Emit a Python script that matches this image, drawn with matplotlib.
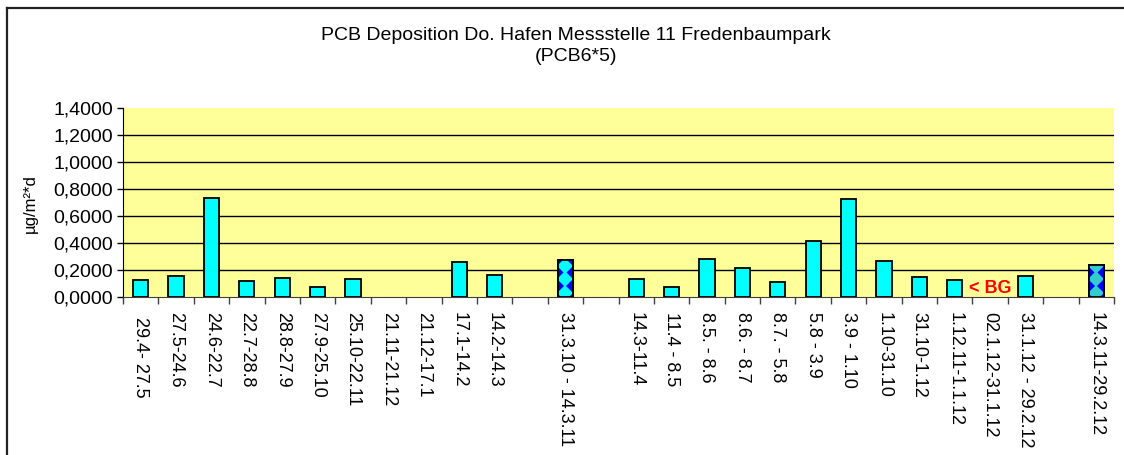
import matplotlib
matplotlib.use("Agg")
import matplotlib.pyplot as plt
from matplotlib.lines import Line2D
from matplotlib.ticker import FixedLocator, FuncFormatter
import numpy as np

plt.rcParams["font.family"] = ["Liberation Sans", "DejaVu Sans"]

# measuring periods (x categories); empty strings are gaps in the series
periods = [
    " 29.4- 27.5", "27.5-24.6", "24.6-22.7", "22.7-28.8", "28.8-27.9",
    "27.9-25.10", "25.10-22.11", "21.11-21.12", "21.12-17.1", "17.1-14.2",
    "14.2-14.3", "", "31.3.10 - 14.3.11", "", "14.3-11.4", "11.4 - 8.5",
    "8.5. - 8.6", "8.6. - 8.7", "8.7. - 5.8", "5.8 - 3.9", "3.9 - 1.10",
    "1.10-31.10", "31.10-1.12", "1.12.11-1.1.12", "02.1.12-31.1.12",
    "31.1.12 - 29.2.12", "", "14.3.11-29.2.12",
]
# deposition in µg/m²*d, NaN = no bar
deposition = [
    0.128, 0.158, 0.733, 0.116, 0.138, 0.074, 0.136, np.nan, np.nan, 0.257,
    0.165, np.nan, 0.274, np.nan, 0.131, 0.077, 0.281, 0.212, 0.109, 0.415,
    0.723, 0.267, 0.151, 0.123, np.nan, 0.156, np.nan, 0.240,
]
# annual mean bars (index -> diamond colour)
annual = {12: "#00FFFF", 27: "#33CCCC"}
# below detection limit marker
bg_index = 24
bg_value = 0.06

W, H = 1124, 455
fig = plt.figure(figsize=(W / 100, H / 100), dpi=100, facecolor="white")
left, right, top, bottom = 123, 1114, 108, 297
ax = fig.add_axes([left / W, 1 - bottom / H, (right - left) / W, (bottom - top) / H])
ax.set_facecolor("#FFFF99")

x = np.arange(len(periods))
vals = np.array(deposition, dtype=float)
width = 0.43

for i, v in zip(x, vals):
    if np.isnan(v):
        continue
    if i in annual:
        bar = ax.bar(i, v, width=width, color="#0000FF", edgecolor="black",
                     linewidth=1.3, zorder=3)[0]
        ys = np.arange(0.03, v + 0.05, 0.1)
        ln, = ax.plot(np.full(len(ys), i), ys, linestyle="none", marker="D",
                      markersize=8.5, markerfacecolor=annual[i],
                      markeredgewidth=0, zorder=4)
        ln.set_clip_path(bar)
        ax.bar(i, v, width=width, fill=False, edgecolor="black",
               linewidth=1.3, zorder=5)
    else:
        ax.bar(i, v, width=width, color="#00FFFF", edgecolor="black",
               linewidth=1.3, zorder=3)

ax.text(bg_index, bg_value, "< BG", color="#FF0000", fontsize=13,
        fontweight="bold", ha="center", va="center", zorder=6)

ax.set_xlim(-0.5, len(periods) - 0.5)
ax.set_ylim(0, 1.4)
yt = np.arange(0, 1.41, 0.2)
ax.set_yticks(yt)
ax.yaxis.set_major_formatter(FuncFormatter(lambda v, p: f"{v:.4f}".replace(".", ",")))
for y in yt[1:-1]:
    ax.axhline(y, color="black", linewidth=1, zorder=1)

ax.set_xticks(x)
ax.set_xticklabels(periods, rotation=270, va="top", ha="center", fontsize=13)
ax.xaxis.set_minor_locator(FixedLocator(np.arange(-0.5, len(periods), 1.0)))
ax.tick_params(axis="x", which="major", length=0, pad=11)
ax.tick_params(axis="x", which="minor", length=5, width=1, color="#404040")
ax.tick_params(axis="y", length=4, width=1, labelsize=14, pad=3)

for side in ("top", "right"):
    ax.spines[side].set_visible(False)
ax.spines["left"].set_color("black")
ax.spines["bottom"].set_color("#404040")
ax.spines["bottom"].set_zorder(7)

fig.text(30 / W, 1 - 204 / H, "µg/m²*d", rotation=90, ha="center", va="center",
         fontsize=12)
fig.text(576 / W, 1 - 46 / H,
         "PCB Deposition Do. Hafen Messstelle 11 Fredenbaumpark\n(PCB6*5)",
         ha="center", va="center", fontsize=14, linespacing=1.3)

# chart frame (left and top edges)
fig.add_artist(Line2D([7 / W, 7 / W], [0, 1 - 8 / H], transform=fig.transFigure,
                      color="#222222", linewidth=1.6))
fig.add_artist(Line2D([7 / W, 1], [1 - 8 / H, 1 - 8 / H], transform=fig.transFigure,
                      color="#222222", linewidth=1.6))

fig.savefig("out.png", dpi=100, facecolor="white")
plt.close(fig)
